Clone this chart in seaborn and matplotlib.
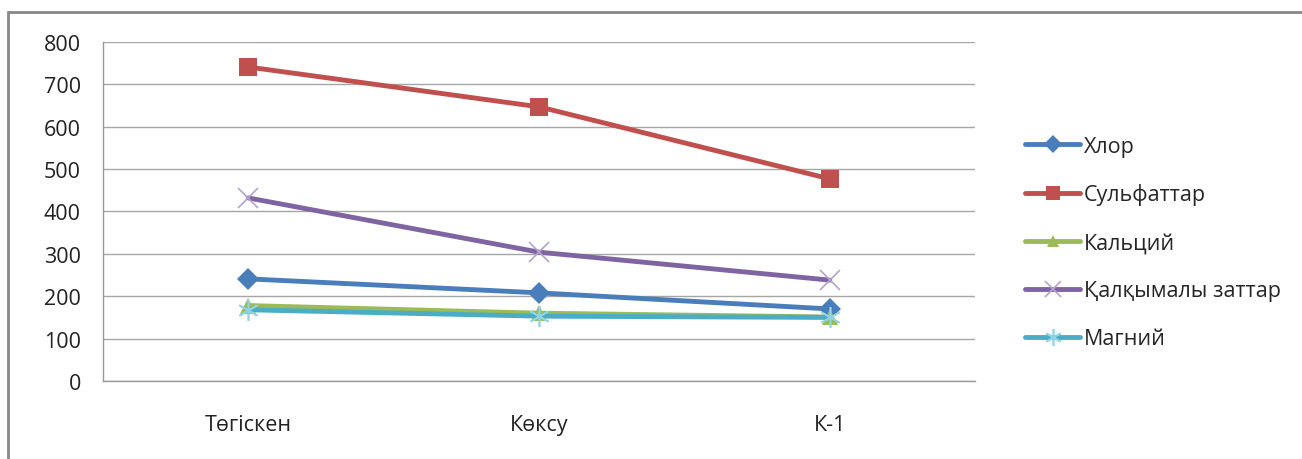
import matplotlib
matplotlib.use("Agg")
import pandas as pd
import matplotlib.pyplot as plt
import seaborn as sns
from matplotlib.patches import Rectangle

sites = ["Төгіскен", "Көксу", "К-1"]
chlor = [241, 208, 170]
sulfates = [741, 647, 477]
calcium = [178, 160, 151]
suspended = [432, 304, 238]
magnesium = [168, 153, 150]

series_names = ["Хлор", "Сульфаттар", "Кальций", "Қалқымалы заттар", "Магний"]
series_vals = [chlor, sulfates, calcium, suspended, magnesium]
colors = ["#4A7EBB", "#C0504D", "#9BBB59", "#8064A2", "#4BACC6"]
edge_colors = ["#4A7EBB", "#C0504D", "#9BBB59", "#B5A3CF", "#8FD3E5"]
markers = ["D", "s", "^", "x", (6, 2, 0)]
msizes = [11, 13, 11, 15, 15]

sns.set_style("white")
plt.rcParams["font.family"] = ["Open Sans", "DejaVu Sans"]

fig = plt.figure(figsize=(13.02, 4.6), dpi=100)
ax = fig.add_axes([0.0791, 0.1696, 0.6699, 0.7369])

rows = []
for name, vals in zip(series_names, series_vals):
    for s, v in zip(sites, vals):
        rows.append({"site": s, "value": v, "series": name})
df = pd.DataFrame(rows)
df["x"] = df["site"].map({s: i for i, s in enumerate(sites)})

for name, c, ec, m, ms in zip(series_names, colors, edge_colors, markers, msizes):
    sub = df[df["series"] == name]
    thin = m == "x" or isinstance(m, tuple)
    sns.lineplot(data=sub, x="x", y="value", ax=ax, color=c, lw=3.5,
                 marker=m, markersize=ms, markeredgecolor=ec,
                 markeredgewidth=1.2 if thin else 0, label=name, legend=False)

ax.set_xlim(-0.5, 2.5)
ax.set_ylim(0, 800)
ax.set_yticks(range(0, 801, 100))
ax.set_xticks(range(len(sites)))
ax.set_xticklabels(sites)
ax.set_xticks([-0.5, 0.5, 1.5, 2.5], minor=True)
ax.tick_params(axis="x", which="major", length=0, pad=24, labelsize=15.5, labelcolor="#222222")
ax.tick_params(axis="x", which="minor", length=7, width=1, color="#999999", direction="out")
ax.tick_params(axis="y", length=7, width=1, color="#999999", direction="out", labelsize=15.5,
               pad=9, labelcolor="#222222")
ax.set_xlabel("")
ax.set_ylabel("")
ax.yaxis.grid(True, color="#A6A6A6", lw=1)
ax.set_axisbelow(True)
for sp in ["top", "right"]:
    ax.spines[sp].set_visible(False)
for sp in ["left", "bottom"]:
    ax.spines[sp].set_color("#999999")
    ax.spines[sp].set_linewidth(1)

handles, labels = ax.get_legend_handles_labels()
leg = fig.legend(handles, labels, loc="center left", bbox_to_anchor=(0.772, 0.471),
                 frameon=False, fontsize=15.5, handlelength=2.6, handletextpad=0.15,
                 labelspacing=1.25, markerscale=0.8)

fig.add_artist(Rectangle((8 / 1302, -0.1), 1.0, 1.1 - 13 / 460, transform=fig.transFigure,
                         fill=False, edgecolor="#888888", lw=2))

fig.savefig("out.png", dpi=100)
